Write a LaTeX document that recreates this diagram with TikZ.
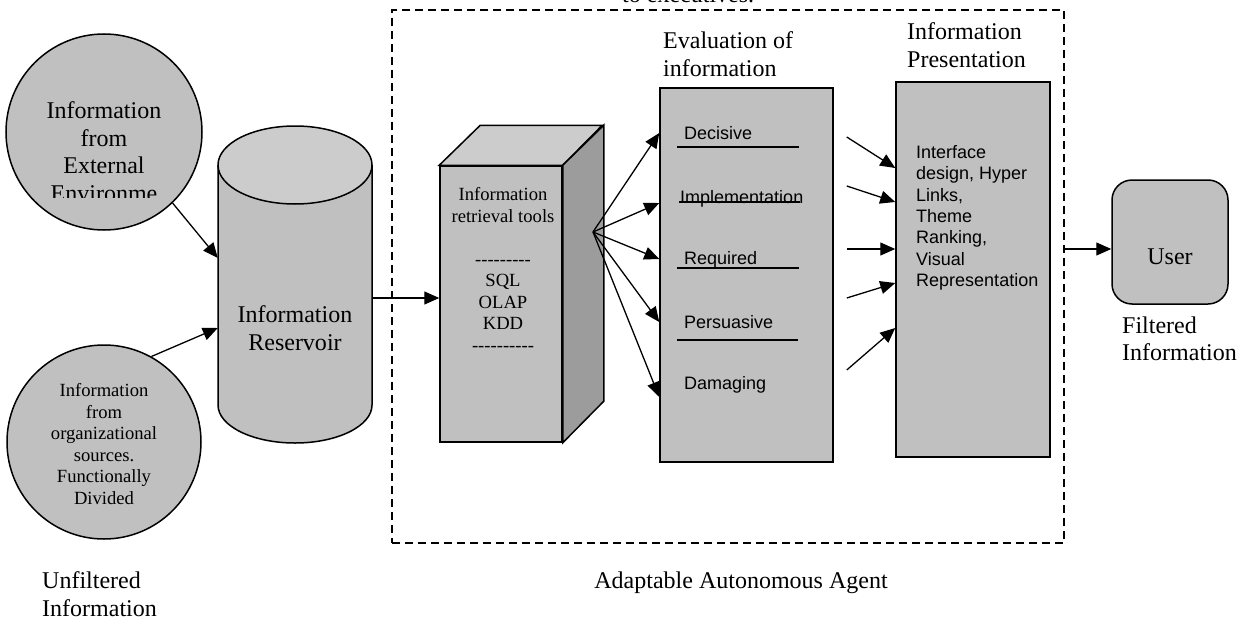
\documentclass[tikz,border=0pt]{standalone}
\usepackage{fontspec}
\setmainfont{Liberation Serif}
\newfontfamily\arialfont{Liberation Sans}
\usetikzlibrary{arrows.meta,calc,positioning}
\definecolor{fillgray}{HTML}{C0C0C0}
\definecolor{topgray}{HTML}{CCCCCC}
\definecolor{sidegray}{HTML}{9C9C9C}
\newcommand\bigserif{\fontsize{24}{27.5}\selectfont}
\newcommand\smallserif{\fontsize{18.6}{21.5}\selectfont}
\newcommand\smallsans{\arialfont\fontsize{18}{21.4}\selectfont}
\tikzset{
  box/.style={draw, fill=fillgray, line width=1.5pt, inner sep=0pt},
  arr/.style={-{Triangle[length=15pt,width=13pt]}, line width=1.3pt},
  bigtext/.style={font=\bigserif, align=center, inner sep=0pt},
  smalltext/.style={font=\smallserif, align=center, inner sep=0pt},
  sanstext/.style={font=\smallsans, align=left, inner sep=0pt},
  sep/.style={line width=1.3pt}
}

\begin{document}
\begin{tikzpicture}[x=1pt,y=-1pt]
    \useasboundingbox (0,0) rectangle (1246,618);
    \clip (0,0) rectangle (1246,618);

    \node[draw, dashed, dash pattern=on 8pt off 5pt, line width=1.3pt, minimum width=672pt, minimum height=533pt] (agent) at (728,276.5) {};
    \node[bigtext, anchor=base west] (exec) at (622,3) {to executives.};
    \node[bigtext] (agentlabel) at (741,583) {Adaptable Autonomous Agent};

    \node[box, circle, minimum size=196pt] (ext) at (104,132) {};
    \begin{scope}
        \clip (0,0) rectangle (300,197);
        \node[bigtext] (exttext) at (104,151.5) {Information\\from\\External\\Environme};
    \end{scope}
    \node[box, circle, minimum size=194pt] (org) at (104,442) {};
    \node[smalltext] (orgtext) at (104,444) {Information\\from\\organizational\\sources.\\Functionally\\Divided};
    \node[bigtext, align=left, anchor=north west] (unfilt) at (42,571.6) {Unfiltered\\Information};

    \filldraw[fill=fillgray, line width=1.5pt] (218,165) -- (218,405) arc[start angle=180, end angle=360, x radius=77pt, y radius=38pt] -- (372,165);
    \filldraw[fill=topgray, line width=1.5pt] (295,165) ellipse [x radius=77pt, y radius=39pt];
    \node[minimum width=154pt, minimum height=240pt, inner sep=0pt] (res) at (295,285) {};
    \node[bigtext] (restext) at (295,328) {Information\\Reservoir};
    \draw[arr] (ext.-46) -- (res.west |- 0,258);
    \draw[arr] (org.61) -- (res.west |- 0,328);

    \node[box, minimum width=122pt, minimum height=276pt] (tools) at (501,304) {};
    \filldraw[fill=topgray, line width=1.5pt] (tools.north west) -- ++(41,-40) -- ++(122,0) -- (tools.north east) -- cycle;
    \filldraw[fill=sidegray, line width=1.5pt] (tools.north east) -- ++(41,-40) -- ++(0,276) -- (tools.south east) -- cycle;
    \node[smalltext] (toolstext) at (503,269.5) {Information\\retrieval tools\\[21.5pt]-{}-{}-{}-{}-{}-{}-{}-{}-\\SQL\\OLAP\\KDD\\-{}-{}-{}-{}-{}-{}-{}-{}-{}-};
    \draw[arr] (res.east |- 0,298) -- (tools.west |- 0,298);

    \node[box, minimum width=173pt, minimum height=374pt] (eval) at (746.5,275) {};
    \node[bigtext, align=left, anchor=north west] (evaltitle) at (663,31.6) {Evaluation of\\information};
    \node[sanstext, anchor=base west] (decisive) at (684,139.5) {Decisive};
    \node[sanstext, anchor=base west] (implement) at (680,203) {Implementation};
    \node[sanstext, anchor=base west] (required) at (684,264) {Required};
    \node[sanstext, anchor=base west] (persuasive) at (684,328) {Persuasive};
    \node[sanstext, anchor=base west] (damaging) at (684,389) {Damaging};
    \draw[sep] (677,147) -- (799,147);
    \draw[sep] (679,202) -- (800,202);
    \draw[sep] (677,268) -- (799,268);
    \draw[sep] (677,340) -- (798,340);
    \coordinate (fan) at (593,232);
    \foreach \y in {133,203,259,322,397}
        \draw[arr] (fan) -- (eval.west |- 0,\y);

    \node[box, minimum width=154pt, minimum height=375pt] (pres) at (973,269.5) {};
    \node[bigtext, align=left, anchor=north west] (prestitle) at (907,22.6) {Information\\Presentation};
    \node[sanstext, anchor=north west] (prestext) at (916,145) {Interface\\design, Hyper\\Links,\\Theme\\Ranking,\\Visual\\Representation};
    \foreach \ya/\yb in {137/168,186/202,249/249,298/283,370/328}
        \draw[arr] ($(eval.east |- 0,\ya)+(13,0)$) -- (pres.west |- 0,\yb);

    \node[box, rounded corners=20pt, minimum width=116pt, minimum height=124pt] (user) at (1170,242) {};
    \node[bigtext] (usertext) at (1170,257) {User};
    \node[bigtext, align=left, anchor=north west] (filt) at (1122,316.6) {Filtered\\Information};
    \draw[arr] (agent.east |- 0,249) -- (user.west |- 0,249);
\end{tikzpicture}
\end{document}
